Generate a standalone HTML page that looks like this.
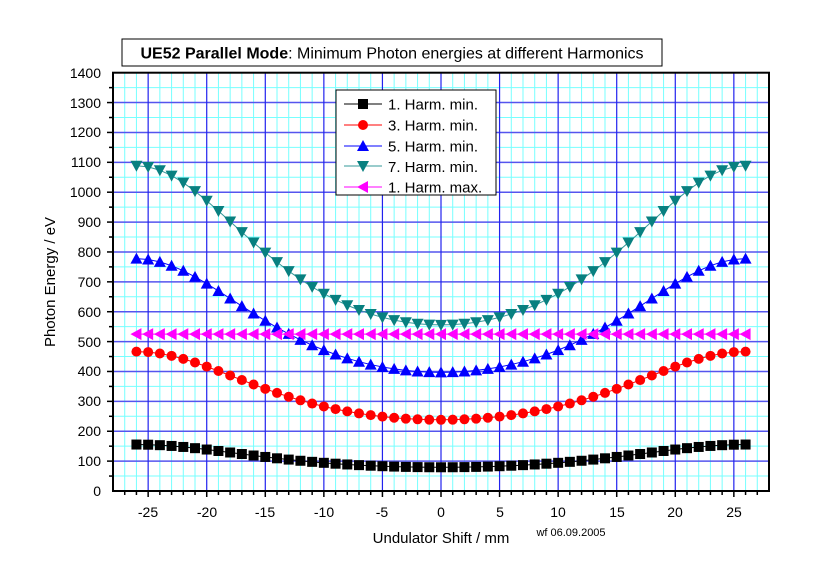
<!DOCTYPE html>
<html><head><meta charset="utf-8"><style>
body{margin:0;background:#fff}
svg{display:block;font-family:"Liberation Sans",Arial,sans-serif}
</style></head><body>
<svg id="s" width="840" height="587" viewBox="0 0 840 587" xmlns="http://www.w3.org/2000/svg">
<rect width="840" height="587" fill="#fff"/>
<g id="grid"></g>
<g id="series"></g>
<rect x="113" y="72.7" width="656" height="418.3" fill="none" stroke="#000" stroke-width="2"/>
<g id="ticks" stroke="#000" stroke-width="1.5"></g>
<g font-size="14" text-anchor="end" fill="#000">
<text x="101" y="496">0</text><text x="101" y="466">100</text><text x="101" y="436">200</text>
<text x="101" y="406">300</text><text x="101" y="376">400</text><text x="101" y="347">500</text>
<text x="101" y="317">600</text><text x="101" y="287">700</text><text x="101" y="257">800</text>
<text x="101" y="227">900</text><text x="101" y="197">1000</text><text x="101" y="167">1100</text>
<text x="101" y="137">1200</text><text x="101" y="108">1300</text><text x="101" y="78">1400</text>
</g>
<g font-size="14" text-anchor="middle" fill="#000">
<text x="148" y="517">-25</text><text x="207" y="517">-20</text><text x="265" y="517">-15</text>
<text x="324" y="517">-10</text><text x="382" y="517">-5</text><text x="441" y="517">0</text>
<text x="500" y="517">5</text><text x="558" y="517">10</text><text x="617" y="517">15</text>
<text x="675" y="517">20</text><text x="734" y="517">25</text>
</g>
<text x="441" y="543" font-size="15" text-anchor="middle">Undulator Shift / mm</text>
<text x="571" y="536" font-size="11" text-anchor="middle">wf 06.09.2005</text>
<text transform="translate(55,282) rotate(-90)" font-size="15" text-anchor="middle">Photon Energy / eV</text>
<rect x="122" y="39" width="540" height="27" fill="#fff" stroke="#000" stroke-width="1"/>
<text x="392" y="58.5" font-size="16" text-anchor="middle"><tspan font-weight="bold">UE52 Parallel Mode</tspan>: Minimum Photon energies at different Harmonics</text>
<rect x="336" y="90" width="160" height="105" fill="#fff" stroke="#000" stroke-width="1"/>
<g id="leg"></g>
<g font-size="15" fill="#000">
<text x="388" y="109.5">1. Harm. min.</text>
<text x="388" y="130.5">3. Harm. min.</text>
<text x="388" y="151.5">5. Harm. min.</text>
<text x="388" y="172">7. Harm. min.</text>
<text x="388" y="192.5">1. Harm. max.</text>
</g>
</svg>
<script>
const NS="http://www.w3.org/2000/svg";
function el(p,t,a){const e=document.createElementNS(NS,t);for(const k in a)e.setAttribute(k,a[k]);p.appendChild(e);return e;}
const X=x=>441+x*11.714, Y=v=>491-v*0.2988;
const g=document.getElementById('grid');
for(let v=50;v<1400;v+=100)el(g,'line',{x1:113,x2:769,y1:Y(v),y2:Y(v),stroke:'#7ff',"stroke-width":1});
for(let x=-27;x<=27;x++)if(x%5)el(g,'line',{x1:X(x),x2:X(x),y1:72.7,y2:491,stroke:'#7ff',"stroke-width":1});
for(let v=100;v<1400;v+=100)el(g,'line',{x1:113,x2:769,y1:Y(v),y2:Y(v),stroke:'#55e',"stroke-width":1.5});
for(let x=-25;x<=25;x+=5)el(g,'line',{x1:X(x),x2:X(x),y1:72.7,y2:491,stroke:'#22e',"stroke-width":1.2});
const t=document.getElementById('ticks');
for(let x=-27;x<=27;x++){const L=x%5?4:6;el(t,'line',{x1:X(x),x2:X(x),y1:491,y2:491+L});}
for(let v=50;v<1400;v+=50){const L=v%100?4:6;el(t,'line',{x1:113,x2:113-L,y1:Y(v),y2:Y(v)});}
const s=document.getElementById('series');
const E=x=>155.5/(1+0.958*Math.pow(Math.cos(Math.PI*x/52),2));
function mark(p,type,cx,cy,col){
 const r=5;
 if(type=='sq')el(p,'rect',{x:cx-r,y:cy-r,width:2*r,height:2*r,fill:col});
 else if(type=='ci')el(p,'circle',{cx,cy,r:r,fill:col});
 else if(type=='up')el(p,'polygon',{points:`${cx},${cy-6} ${cx-6},${cy+5} ${cx+6},${cy+5}`,fill:col});
 else if(type=='dn')el(p,'polygon',{points:`${cx},${cy+6} ${cx-6},${cy-5} ${cx+6},${cy-5}`,fill:col});
 else el(p,'polygon',{points:`${cx-6},${cy} ${cx+5},${cy-6} ${cx+5},${cy+6}`,fill:col});
}
const ser=[[1,'sq','#000','#000'],[3,'ci','#f00','#f00'],[5,'up','#00f','#00f'],[7,'dn','#088080','#399'],[0,'lt','#f0f','#f0f']];
ser.forEach(([h,ty,col,lc],i)=>{
 const pts=[];for(let x=-26;x<=26;x++)pts.push([X(x),Y(h?h*E(x):525)]);
 el(s,'polyline',{points:pts.map(p=>p.join(',')).join(' '),fill:'none',stroke:lc,"stroke-width":1});
 pts.forEach(p=>mark(s,ty,p[0],p[1],col));
 const ly=[104,125,146,166,187][i];const lg=document.getElementById('leg');
 el(lg,'line',{x1:344,x2:382,y1:ly,y2:ly,stroke:lc,"stroke-width":1});
 mark(lg,ty,363,ly,col);
});
</script>
</body></html>
